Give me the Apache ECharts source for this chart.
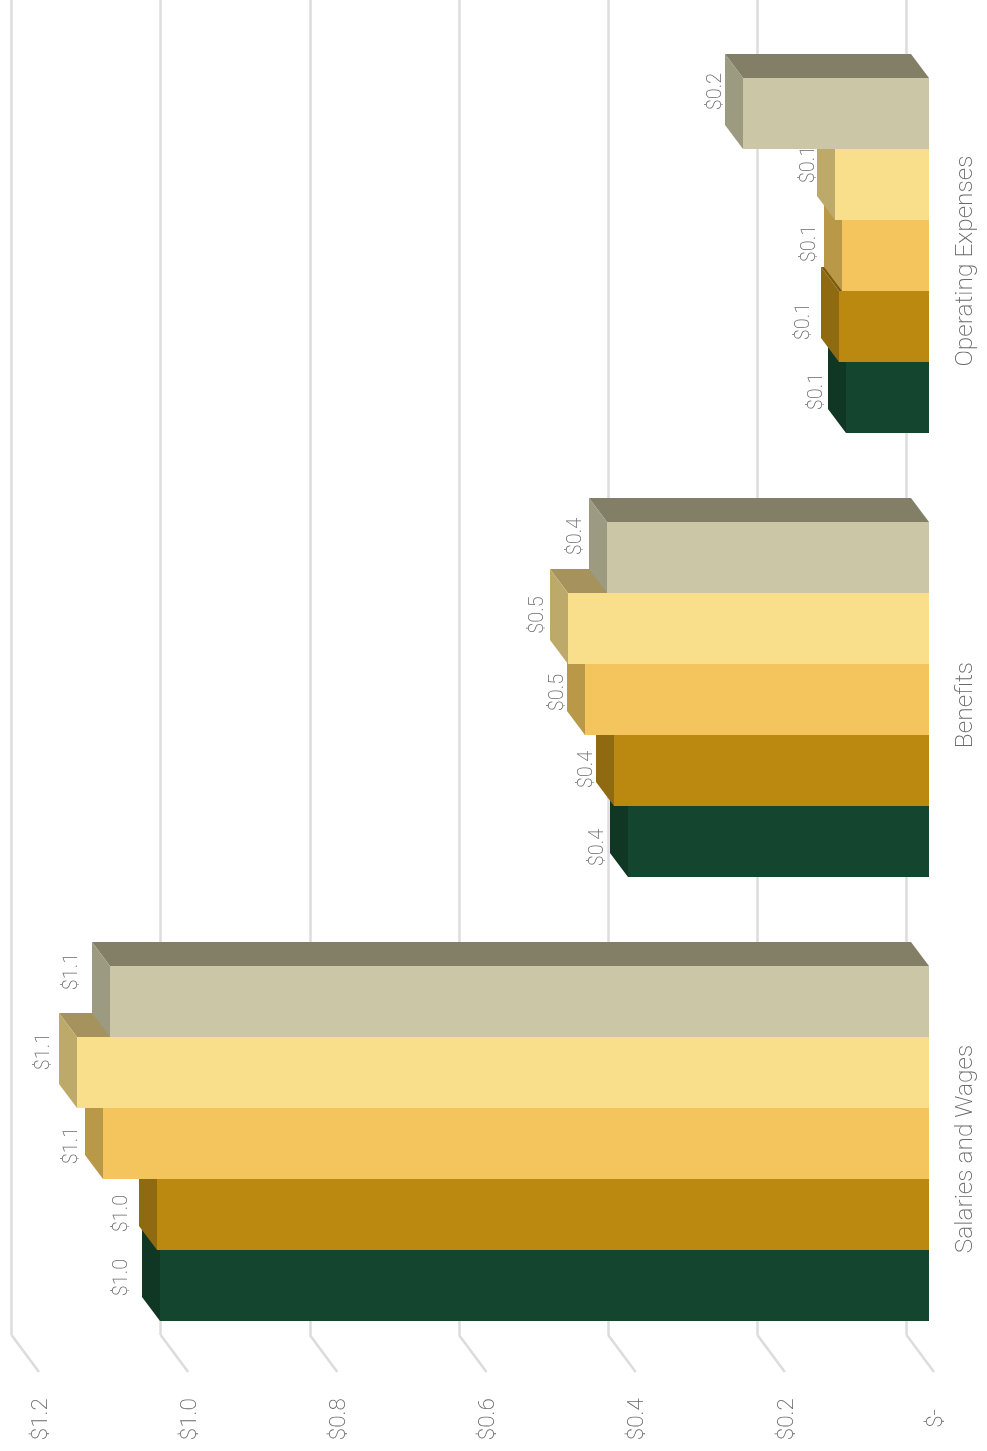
<!DOCTYPE html>
<html>
<head>
<meta charset="utf-8">
<style>html,body{margin:0;padding:0;background:#fff}#chart{width:987px;height:1451px}</style>
<script src="https://cdn.jsdelivr.net/npm/echarts@6/dist/echarts.min.js"></script>
</head>
<body>
<div id="chart"></div>
<script>
// Expenses by category, in millions of dollars, one array per year column
const categories = ['Salaries and Wages', 'Benefits', 'Operating Expenses'];
const seriesA = [1.032, 0.404, 0.111];
const seriesB = [1.035, 0.422, 0.121];
const seriesC = [1.108, 0.461, 0.117];
const seriesD = [1.143, 0.484, 0.126];
const seriesE = [1.099, 0.432, 0.249];
const tickValues = [0, 0.2, 0.4, 0.6, 0.8, 1.0, 1.2];
// the zero label carries trailing spaces so it sits away from the axis end
const tickLabels = ['$-  ', '$0.2', '$0.4', '$0.6', '$0.8', '$1.0', '$1.2'];

// Face colours of each extruded bar
const faceFront = ['#14462f', '#bb8910', '#f4c55c', '#f9df8b', '#cbc6a5'];
const faceSide  = ['#103624', '#8f6a10', '#b99847', '#bdaa6b', '#9c9a80'];
const faceTop   = ['#0d2c1e', '#7a590a', '#a08339', '#a6925d', '#827f66'];

// Hand-placed data labels: shift from the bar's outer edge, per series then category
const labelShiftX = [[-20, -12, -11], [-17, -9, -17], [-13, -9, -14], [-15, -12, -8], [-20, -13, -9]];
const labelShiftY = [[-8, 6, -6], [-1, -1, -5], [2, -7, -12], [-21, -13.5, -20], [-30, -21, -22]];

// Extrusion of the bars towards the back wall
const DEPTH_X = 18, DEPTH_Y = 24;
const FLOOR_X = 27.5, FLOOR_Y = 37;
const GROUP_RATIO = 0.801;
const LABEL_COLOR = '#6a6a6a';
const GRID_COLOR = '#dcdcdc';

function barSeries(values, idx) {
  return {
    type: 'custom',
    name: 'Series ' + (idx + 1),
    xAxisIndex: 0,
    yAxisIndex: 0,
    z: 10 + idx,
    clip: false,
    encode: { x: 1, y: 0 },
    data: values.map((v, c) => [c, v]),
    renderItem(params, api) {
      const cat = api.value(0), val = api.value(1);
      const end = api.coord([val, cat]);
      const base = api.coord([0, cat]);
      const h = api.size([0, 1])[1] * GROUP_RATIO / 5;
      // faces snap to whole pixels so neighbouring polygons leave no seam
      const yt = Math.round(end[1] + (1.5 - idx) * h);
      const yb = Math.round(end[1] + (2.5 - idx) * h);
      const xl = Math.round(end[0]), xr = Math.round(base[0]);
      const c = Math.round(cat);
      return {
        type: 'group',
        children: [
          { type: 'polygon', shape: { points: [[xl, yt], [xl - DEPTH_X, yt - DEPTH_Y], [xr - DEPTH_X, yt - DEPTH_Y], [xr, yt]] }, style: { fill: faceTop[idx] } },
          { type: 'polygon', shape: { points: [[xl, yt], [xl - DEPTH_X, yt - DEPTH_Y], [xl - DEPTH_X, yb - DEPTH_Y], [xl, yb]] }, style: { fill: faceSide[idx] } },
          { type: 'rect', shape: { x: xl, y: yt, width: xr - xl, height: yb - yt }, style: { fill: faceFront[idx] } },
          {
            type: 'text',
            x: xl - DEPTH_X + labelShiftX[idx][c],
            y: (yt + yb) / 2 + labelShiftY[idx][c],
            rotation: Math.PI / 2,
            style: {
              text: '$' + val.toFixed(1),
              fill: LABEL_COLOR,
              font: '200 20px Roboto, sans-serif',
              align: 'center',
              verticalAlign: 'middle'
            }
          }
        ]
      };
    }
  };
}

const valueAxis = (gridIndex, extra) => Object.assign({
  type: 'value', gridIndex, min: 0, max: 1.2, interval: 0.2, inverse: true,
  axisLine: { show: false }, axisTick: { show: false },
  axisLabel: { show: false }, splitLine: { show: false }
}, extra);

const option = {
  backgroundColor: '#ffffff',
  animation: false,
  grid: [
    // front plane carrying the bars
    { left: 34.4, right: 58, top: 33.5, bottom: 85.5 },
    // back wall carrying the gridlines
    { left: 11.5, right: 80.5, top: 0, bottom: 116 },
    // outer edge of the floor carrying the axis text
    { left: 41.5, right: 51, top: 39, bottom: 80 }
  ],
  xAxis: [
    valueAxis(0),
    valueAxis(1, { splitLine: { show: true, lineStyle: { color: GRID_COLOR, width: 2.5 } } }),
    valueAxis(2, {
      axisLabel: {
        show: true, rotate: 90, margin: 27, color: LABEL_COLOR,
        fontFamily: 'Roboto', fontWeight: 200, fontSize: 22.5,
        formatter: v => tickLabels[tickValues.findIndex(t => Math.abs(t - v) < 1e-6)]
      }
    })
  ],
  yAxis: [
    { type: 'category', gridIndex: 0, data: categories, show: false },
    { type: 'value', gridIndex: 1, min: 0, max: 1, show: false },
    {
      type: 'category', gridIndex: 2, data: categories, position: 'right',
      axisLine: { show: false, onZero: false }, axisTick: { show: false },
      axisLabel: {
        rotate: 90, margin: 17, color: LABEL_COLOR,
        fontFamily: 'Roboto', fontWeight: 200, fontSize: 24.5
      }
    }
  ],
  series: [
    {
      // slanted floor lines running from the wall towards the viewer
      type: 'custom',
      xAxisIndex: 1,
      yAxisIndex: 1,
      z: 2,
      clip: false,
      encode: { x: 0, y: 1 },
      data: tickValues.map(v => [v, 0]),
      renderItem(params, api) {
        const p = api.coord([api.value(0), 0]);
        return {
          type: 'line',
          shape: { x1: p[0], y1: p[1], x2: p[0] + FLOOR_X, y2: p[1] + FLOOR_Y },
          style: { stroke: GRID_COLOR, lineWidth: 2.5 }
        };
      }
    },
    barSeries(seriesA, 0),
    barSeries(seriesB, 1),
    barSeries(seriesC, 2),
    barSeries(seriesD, 3),
    barSeries(seriesE, 4)
  ]
};

echarts.init(document.getElementById('chart')).setOption(option);
</script>
</body>
</html>
